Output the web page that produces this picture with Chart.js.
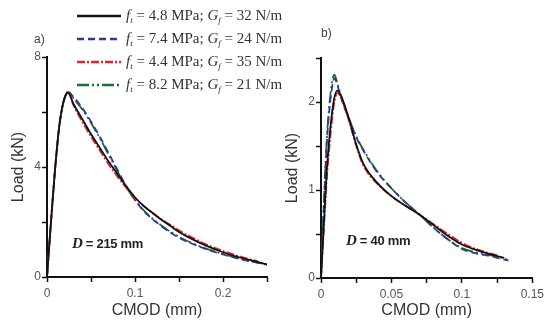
<!DOCTYPE html>
<html>
<head>
<meta charset="utf-8">
<script src="https://cdn.jsdelivr.net/npm/chart.js@4"></script>
<style>
  body{ margin:0; background:#fff; width:548px; height:321px; overflow:hidden; position:relative; font-family:"Liberation Sans", Arial, sans-serif; }
  .box{ position:absolute; top:0; height:321px; }
  #boxA{ left:0; width:275px; }
  #boxB{ left:274px; width:274px; }
  .lbl{ position:absolute; font-size:12px; color:#444; }
  .dlab{ position:absolute; font-size:13px; font-weight:bold; color:#222; letter-spacing:-0.3px; }
  .dlab i{ font-family:"Liberation Serif", serif; font-size:15px; }
  #legend{ position:absolute; left:77px; top:4px; font-family:"Liberation Serif", "Times New Roman", serif; font-size:15px; color:#333; }
  #legend .row{ height:23px; display:flex; align-items:center; }
  #legend svg{ width:44px; height:10px; margin-right:5px; }
  sub{ font-size:9px; vertical-align:-3px; }
</style>
</head>
<body>
<div class="box" id="boxA"><canvas id="chartA" width="275" height="321"></canvas></div>
<div class="box" id="boxB"><canvas id="chartB" width="274" height="321"></canvas></div>
<div class="lbl" style="left:34px;top:32px;">a)</div>
<div class="lbl" style="left:321px;top:26px;">b)</div>
<div class="dlab" style="left:72px;top:235px;"><i>D</i> = 215 mm</div>
<div class="dlab" style="left:346px;top:232px;"><i>D</i> = 40 mm</div>
<div id="legend"></div>
<script>
// leyenda: f_t y G_f de cada simulacion
var seriesFt = ["4.8", "7.4", "4.4", "8.2"];
var seriesGf = ["32", "24", "35", "21"];
var seriesColor = ["#111111", "#2c3a9a", "#e3262d", "#1f6a32"];
var seriesDash = [[], [7, 4], [8, 2, 2, 2], [12, 3, 2, 3, 2, 3]];

// a) D = 215 mm
var cmodA = [0, 0.0045, 0.0094, 0.014, 0.019, 0.024, 0.03, 0.04, 0.05, 0.06, 0.07, 0.08, 0.09, 0.1, 0.11, 0.12, 0.13, 0.14, 0.15, 0.16, 0.18, 0.2, 0.22, 0.24, 0.25];
var loadA1 = [0, 2.0, 4.0, 5.5, 6.4, 6.7, 6.3, 5.75, 5.2, 4.7, 4.2, 3.75, 3.3, 2.9, 2.58, 2.33, 2.08, 1.86, 1.64, 1.46, 1.15, 0.9, 0.7, 0.54, 0.46];
var loadA2 = [0, 2.0, 4.0, 5.5, 6.4, 6.72, 6.55, 6.15, 5.65, 5.1, 4.5, 3.9, 3.3, 2.8, 2.4, 2.1, 1.85, 1.62, 1.43, 1.28, 1.02, 0.82, 0.65, 0.51, 0.45];
var loadA3 = [0, 2.0, 4.0, 5.5, 6.4, 6.72, 6.25, 5.65, 5.1, 4.6, 4.1, 3.65, 3.25, 2.88, 2.58, 2.33, 2.1, 1.9, 1.7, 1.52, 1.2, 0.95, 0.74, 0.57, null];
var loadA4 = [0, 2.0, 4.0, 5.5, 6.4, 6.75, 6.5, 6.1, 5.6, 5.05, 4.45, 3.85, 3.28, 2.8, 2.42, 2.12, 1.87, 1.65, 1.46, 1.3, 1.04, 0.84, 0.66, 0.52, 0.46];

// b) D = 40 mm
var cmodB = [0, 0.002, 0.004, 0.006, 0.008, 0.0095, 0.0115, 0.014, 0.017, 0.02, 0.025, 0.03, 0.04, 0.05, 0.06, 0.07, 0.08, 0.09, 0.1, 0.11, 0.12, 0.125, 0.13, 0.133];
var loadB1 = [0, 0.6, 1.2, 1.6, 1.9, 2.05, 2.13, 2.08, 1.95, 1.8, 1.52, 1.3, 1.08, 0.93, 0.82, 0.72, 0.6, 0.48, 0.38, 0.32, 0.27, 0.25, 0.23, null];
var loadB2 = [0, 0.8, 1.5, 1.92, 2.18, 2.27, 2.2, 2.06, 1.92, 1.8, 1.6, 1.45, 1.2, 1.02, 0.86, 0.72, 0.57, 0.44, 0.33, 0.28, 0.25, 0.23, 0.21, 0.2];
var loadB3 = [0, 0.55, 1.1, 1.5, 1.82, 2.0, 2.1, 2.06, 1.93, 1.78, 1.5, 1.28, 1.07, 0.93, 0.82, 0.72, 0.61, 0.5, 0.4, 0.33, 0.28, 0.26, null, null];
var loadB4 = [0, 0.85, 1.55, 1.98, 2.24, 2.31, 2.22, 2.08, 1.94, 1.81, 1.61, 1.46, 1.21, 1.02, 0.86, 0.72, 0.57, 0.44, 0.34, 0.29, 0.26, 0.24, 0.22, 0.21];

// leyenda en HTML (subindices)
var legend = document.getElementById("legend");
for(var i = 0; i < 4; i++){
  var row = document.createElement("div");
  row.className = "row";
  var dash = seriesDash[i].length ? ' stroke-dasharray="' + seriesDash[i].join(",") + '"' : "";
  row.innerHTML = '<svg><line x1="0" y1="5" x2="44" y2="5" stroke="' + seriesColor[i] + '" stroke-width="2.5"' + dash + '/></svg>' +
    '<span><i>f</i><sub><i>t</i></sub> = ' + seriesFt[i] + ' MPa; <i>G</i><sub><i>f</i></sub> = ' + seriesGf[i] + ' N/m</span>';
  legend.appendChild(row);
}

function toPoints(xs, ys){
  var pts = [];
  for(var i = 0; i < xs.length; i++){
    if(ys[i] !== null) pts.push({ x: xs[i], y: ys[i] });
  }
  return pts;
}

function makeDatasets(xs, loads){
  var order = [0, 2, 1, 3];
  return order.map(function(k){
    return {
      data: toPoints(xs, loads[k]),
      borderColor: seriesColor[k],
      borderDash: seriesDash[k],
      borderWidth: 1.8,
      pointRadius: 0,
      fill: false,
      cubicInterpolationMode: "monotone"
    };
  });
}

function fmt(v){ return String(Math.round(v * 1000) / 1000); }

function makeChart(id, xs, loads, cfg){
  return new Chart(document.getElementById(id), {
    type: "line",
    data: { datasets: makeDatasets(xs, loads) },
    options: {
      responsive: false,
      animation: false,
      layout: { padding: { left: 0, right: cfg.padRight, top: cfg.padTop, bottom: 0 } },
      plugins: { legend: { display: false }, tooltip: { enabled: false } },
      scales: {
        x: {
          type: "linear", min: 0, max: cfg.xMax,
          afterFit: function(s){ s.height = cfg.xHeight; },
          border: { color: "#111", width: 2 },
          grid: { drawOnChartArea: false, drawTicks: true, tickLength: 5, color: "#111", tickWidth: 1.5 },
          ticks: { stepSize: cfg.xStep, maxRotation: 0, autoSkip: false, padding: 4, color: "#555",
                   font: { size: 12, family: "Liberation Sans" },
                   callback: function(v, i){ return i % 2 === 0 ? fmt(v) : ""; } },
          title: { display: true, text: "CMOD (mm)", color: "#333", padding: { top: 0, bottom: 1 },
                   font: { size: 16, family: "Liberation Sans" } }
        },
        y: {
          type: "linear", min: 0, max: cfg.yMax,
          afterFit: function(s){ s.width = 47; },
          border: { color: "#111", width: 2 },
          grid: { drawOnChartArea: false, drawTicks: true, tickLength: 5, color: "#111", tickWidth: 1.5 },
          ticks: { stepSize: cfg.yStep, autoSkip: false, padding: 1, color: "#555",
                   font: { size: 12, family: "Liberation Sans" },
                   callback: function(v, i){ return i % 2 === 0 ? fmt(v) : ""; } },
          title: { display: true, text: "Load (kN)", color: "#333", padding: { top: 9, bottom: 0 },
                   font: { size: 16, family: "Liberation Sans" } }
        }
      }
    }
  });
}

makeChart("chartA", cmodA, [loadA1, loadA2, loadA3, loadA4],
  { xMax: 0.25, xStep: 0.05, yMax: 8, yStep: 2, padRight: 8, padTop: 57, xHeight: 44 });
makeChart("chartB", cmodB, [loadB1, loadB2, loadB3, loadB4],
  { xMax: 0.15, xStep: 0.025, yMax: 2.5, yStep: 0.5, padRight: 9, padTop: 58, xHeight: 43 });
</script>
</body>
</html>
